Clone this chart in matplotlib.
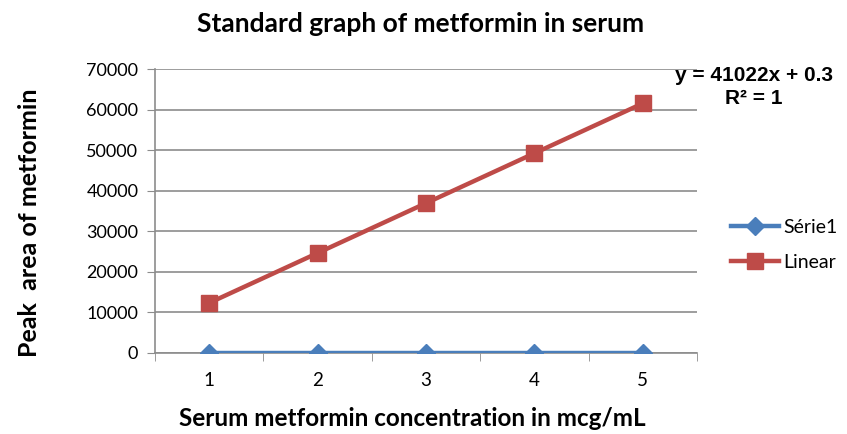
import numpy as np
import matplotlib.pyplot as plt

# data
concentrations = ['1', '2', '3', '4', '5']
serie1 = [0, 0, 0, 0, 0]
linear = [12307, 24613, 36920, 49226, 61533]
y_ticks = [0, 10000, 20000, 30000, 40000, 50000, 60000, 70000]

blue = '#4A7EBB'
red = '#BE4B48'
grid_gray = '#8C8C8C'

plt.rcParams['font.family'] = ['Lato', 'DejaVu Sans']

fig = plt.figure(figsize=(8.47, 4.34), dpi=100)
ax = fig.add_axes([0.183, 0.187, 0.640, 0.654])

x = np.arange(len(concentrations))
ax.plot(x, serie1, color=blue, lw=3.2, marker='D', ms=9, label='Série1', zorder=3)
ax.plot(x, linear, color=red, lw=3.2, marker='s', ms=11, label='Linear', zorder=3)

ax.set_xlim(-0.5, len(concentrations) - 0.5)
ax.set_ylim(0, 70000)
ax.set_yticks(y_ticks)
ax.set_yticklabels([str(v) for v in y_ticks])
ax.set_xticks(x)
ax.set_xticklabels(concentrations)
ax.set_xticks(np.arange(-0.5, len(concentrations)), minor=True)

ax.yaxis.grid(True, color=grid_gray, lw=1.2)
ax.set_axisbelow(True)
for s in ['top', 'right']:
    ax.spines[s].set_visible(False)
ax.spines['left'].set_color(grid_gray)
ax.spines['bottom'].set_color(grid_gray)
ax.spines['left'].set_linewidth(1.2)
ax.spines['bottom'].set_linewidth(1.2)
ax.tick_params(axis='y', length=6, color=grid_gray, labelsize=13, pad=6)
ax.tick_params(axis='x', which='major', length=0, labelsize=13.5, pad=14)
ax.tick_params(axis='x', which='minor', length=6, color=grid_gray)

fig.text(0.496, 0.945, 'Standard graph of metformin in serum', ha='center', va='center',
         fontsize=19, fontweight='bold')
fig.text(0.487, 0.035, 'Serum metformin concentration in mcg/mL', ha='center', va='center',
         fontsize=17.5, fontweight='bold')
fig.text(0.035, 0.486, 'Peak  area of metformin', ha='center', va='center',
         rotation=90, fontsize=18, fontweight='bold')

fig.text(0.890, 0.827, 'y = 41022x + 0.3', ha='center', va='center', fontsize=15,
         fontweight='bold', family='Liberation Sans')
fig.text(0.890, 0.774, 'R² = 1', ha='center', va='center', fontsize=15,
         fontweight='bold', family='Liberation Sans')

ax.legend(loc='center left', bbox_to_anchor=(1.03, 0.38), frameon=False,
          fontsize=14, handlelength=2.5, handletextpad=0.2, labelspacing=0.9)

fig.savefig('out.png', dpi=100)
